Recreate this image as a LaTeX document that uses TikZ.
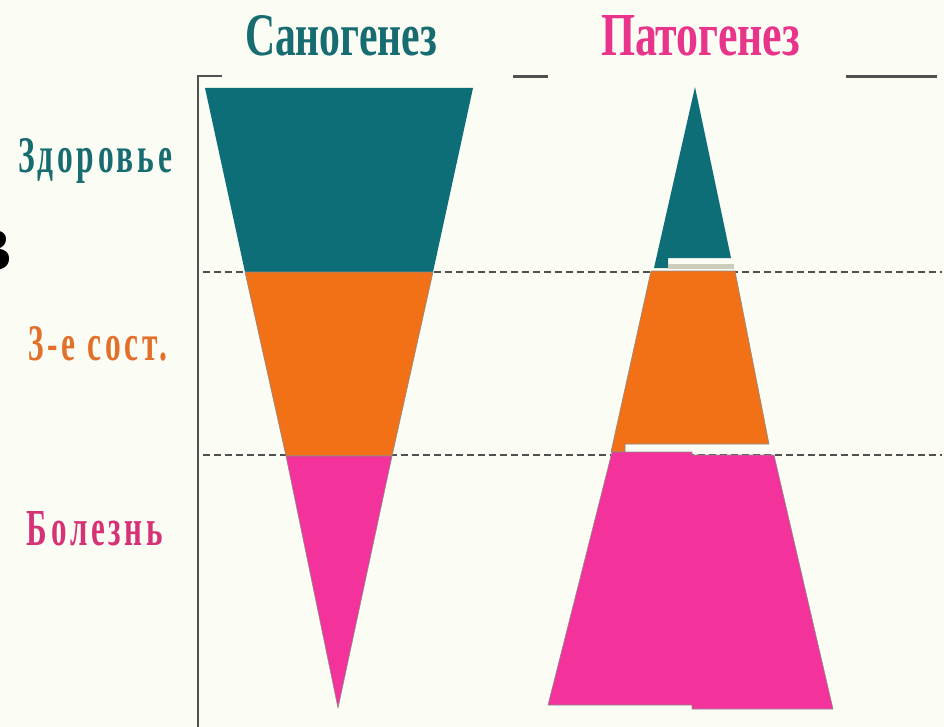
\documentclass[tikz,border=0pt]{standalone}
\usepackage{fontspec}
\setmainfont{Liberation Serif}
\usepackage{graphicx}
\definecolor{bg}{RGB}{251,253,244}
\definecolor{tealF}{RGB}{14,110,120}
\definecolor{orngF}{RGB}{242,112,22}
\definecolor{pnkF}{RGB}{244,50,155}
\definecolor{tealT}{RGB}{22,108,112}
\definecolor{pinkT}{RGB}{232,52,138}
\definecolor{orngT}{RGB}{226,112,42}
\definecolor{pinkL}{RGB}{214,50,118}
\definecolor{axisC}{RGB}{80,80,80}
\definecolor{bandC}{RGB}{205,205,190}
\newcommand{\lblfont}{\bfseries\addfontfeature{LetterSpace=12}}
\begin{document}
\begin{tikzpicture}[x=1pt,y=-1pt,
  txt/.style={anchor=base west,inner sep=0pt,outer sep=0pt},
  guide/.style={draw=axisC,line width=2pt,dash pattern=on 7pt off 4pt},
  axisline/.style={draw=axisC,line width=2pt},
  barline/.style={draw=axisC,line width=3pt},
  part/.style={draw=black!45,line width=0.6pt,line join=round}]
\useasboundingbox (0,0) rectangle (944,727);
\fill[bg] (0,0) rectangle (944,727);

% cut-off black letter at left edge (as in the reference)
\node[anchor=base east,inner sep=0pt,text=black] (cut) at (11,270) {\resizebox{!}{40pt}{\bfseries В}};

% titles
\node[txt,text=tealT] (san) at (245,56) {\resizebox{192pt}{40pt}{\bfseries Саногенез}};
\node[txt,text=pinkT] (pat) at (601,56) {\resizebox{199pt}{40pt}{\bfseries Патогенез}};

% labels
\node[txt,text=tealT] (zdr) at (18,173) {\resizebox{154pt}{34pt}{\lblfont Здоровье}};
\node[txt,text=orngT] (sost) at (28,360) {\resizebox{139pt}{34pt}{\lblfont 3-е сост.}};
\node[txt,text=pinkL] (bol) at (27,545) {\resizebox{136pt}{34pt}{\lblfont Болезнь}};

% axis and top marks
\coordinate (axT) at (198,76);
\coordinate (axB) at (198,727);
\coordinate (tick) at (222,76);
\draw[axisline] (axB) -- (axT) -- (tick);
\coordinate (m1a) at (513,77); \coordinate (m1b) at (548,77);
\coordinate (m2a) at (846,77); \coordinate (m2b) at (937,77);
\draw[barline] (m1a) -- (m1b);
\draw[barline] (m2a) -- (m2b);

% dashed level lines
\coordinate (d1a) at (203,272); \coordinate (d1b) at (942,272);
\coordinate (d2a) at (203,455); \coordinate (d2b) at (942,455);
\draw[guide] (d1a) -- (d1b);
\draw[guide] (d2a) -- (d2b);

% Sanogenesis: inverted triangle
\fill[tealF] (205,88) -- (473,88) -- (433,272) -- (245,272) -- cycle;
\filldraw[fill=orngF,part] (245,272) -- (433,272) -- (392,456) -- (286,456) -- cycle;
\filldraw[fill=pnkF,part] (286,456) -- (392,456) -- (338,708) -- cycle;

% Pathogenesis: pyramid
\fill[tealF] (695,87) -- (731,258) -- (668,258) -- (668,268) -- (654,268) -- cycle;
\fill[bandC] (668,264) rectangle (734,269);
\filldraw[fill=orngF,part] (651,271) -- (735,271) -- (769,444) -- (625,444) -- (625,452) -- (611,452) -- cycle;
\filldraw[fill=pnkF,part] (612,452) -- (692,452) -- (692,455) -- (774,455) -- (833,709) -- (692,709) -- (692,705) -- (548,705) -- cycle;
\end{tikzpicture}
\end{document}
